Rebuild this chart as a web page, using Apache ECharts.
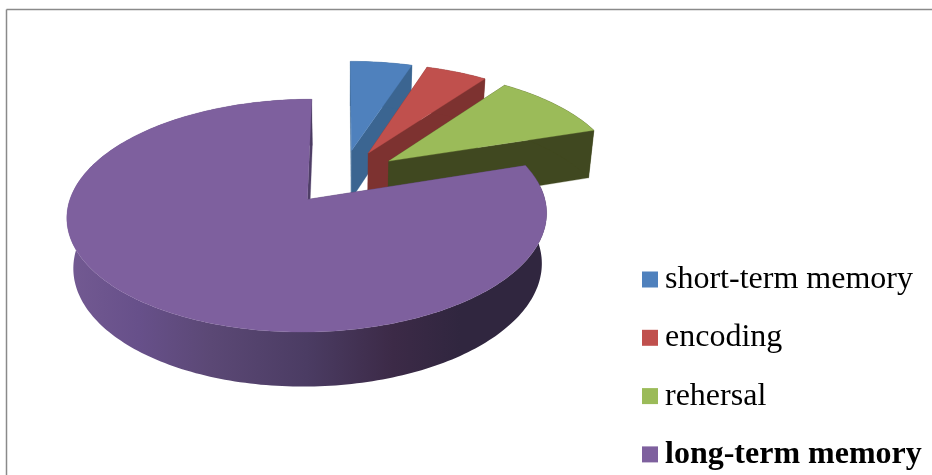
<!DOCTYPE html>
<html><head><meta charset="utf-8">
<style>html,body{margin:0;padding:0;background:#fff}#c{width:932px;height:475px}</style>
<script src="https://cdn.jsdelivr.net/npm/echarts@6/dist/echarts.min.js"></script>
</head><body><div id="c"></div>
<script>
const categories = ['short-term memory', 'encoding', 'rehersal', 'long-term memory'];
const values = [5, 5, 10, 80];
const topColors = ['#4f81bd', '#c0504d', '#9bbb59', '#7e609e'];
const wallColors = ['#3b6591', '#7d3230', '#404820', '#4e3e66'];

// 3D camera: unit-radius pie projected with perspective
const view = {cx: 342.6, cy: 176.8, A: 231, B: 108, p: 0.135, depth: 50.5, q: 0.023, explode: 0.252};
function project(X, Y, low) {
  const w = 1 + view.p * Y + (low ? view.q : 0);
  return [view.cx + view.A * X / w, view.cy + (-view.B * Y + (low ? view.depth : 0)) / w];
}
const total = values.reduce((a, b) => a + b, 0);
function sliceAngles(i) {
  let s = 0;
  for (let k = 0; k < i; k++) s += values[k];
  const a0 = s / total * Math.PI * 2;
  return [a0, (s + values[i]) / total * Math.PI * 2];
}
function renderSlice(idx) {
  return function (params, api) {
    const v = api.value(0);
    const [a0] = sliceAngles(idx);
    const a1 = a0 + v / total * Math.PI * 2;
    const mid = (a0 + a1) / 2;
    const ox = view.explode * Math.sin(mid), oy = view.explode * Math.cos(mid);
    const rim = low => {
      const pts = [];
      const n = Math.max(6, Math.round((a1 - a0) / 0.02));
      for (let j = 0; j <= n; j++) {
        const t = a0 + (a1 - a0) * j / n;
        pts.push(project(ox + Math.sin(t), oy + Math.cos(t), low));
      }
      return pts;
    };
    const topRim = rim(false), lowRim = rim(true);
    const apexT = project(ox, oy, false), apexL = project(ox, oy, true);
    let wallFill = wallColors[idx];
    if (idx === 3) {
      wallFill = new echarts.graphic.LinearGradient(0, 0, 1, 0, [
        {offset: 0, color: '#735a92'},
        {offset: 0.15, color: '#67508a'},
        {offset: 0.3, color: '#5b4875'},
        {offset: 0.5, color: '#4b3c63'},
        {offset: 0.68, color: '#3c2a47'},
        {offset: 0.82, color: '#30263f'},
        {offset: 1, color: '#30263f'}
      ]);
    }
    const poly = (points, fill) => ({type: 'polygon', shape: {points}, style: {fill, stroke: fill === wallFill && idx === 3 ? null : fill, lineWidth: 0.3}, silent: true});
    const children = [
      poly([apexT, topRim[0], lowRim[0], apexL], wallColors[idx]),
      poly([apexT, topRim[topRim.length - 1], lowRim[lowRim.length - 1], apexL], wallColors[idx]),
      poly(topRim.concat(lowRim.slice().reverse()), wallFill),
      poly([apexT].concat(topRim), topColors[idx])
    ];
    return {type: 'group', children};
  };
}
const chart = echarts.init(document.getElementById('c'), null, {renderer: 'canvas'});
chart.setOption({
  animation: false,
  backgroundColor: '#ffffff',
  color: topColors,
  graphic: [
    {type: 'line', silent: true, shape: {x1: 6.5, y1: 9.5, x2: 932, y2: 9.5}, style: {stroke: '#8a8a8a', lineWidth: 1.5}},
    {type: 'line', silent: true, shape: {x1: 6.5, y1: 9.5, x2: 6.5, y2: 475}, style: {stroke: '#8a8a8a', lineWidth: 1.5}}
  ],
  legend: {
    orient: 'vertical', left: 642, top: 263.5, padding: 0, itemWidth: 16, itemHeight: 16, itemGap: 26.3,
    icon: 'rect', selectedMode: false,
    textStyle: {fontFamily: '"Liberation Serif"', fontSize: 32, color: '#000', lineHeight: 32, padding: [0, 0, 0, 2]},
    data: categories.map((name, i) => ({
      name, itemStyle: {color: topColors[i]},
      textStyle: {fontWeight: i === 3 ? 'bold' : 'normal', fontFamily: '"Liberation Serif"', fontSize: 32, color: '#000'}
    }))
  },
  series: categories.map((name, i) => ({
    type: 'custom', name, coordinateSystem: 'none', silent: true, clip: false,
    itemStyle: {color: topColors[i]},
    renderItem: renderSlice(i),
    data: [[values[i]]]
  }))
});
</script></body></html>
